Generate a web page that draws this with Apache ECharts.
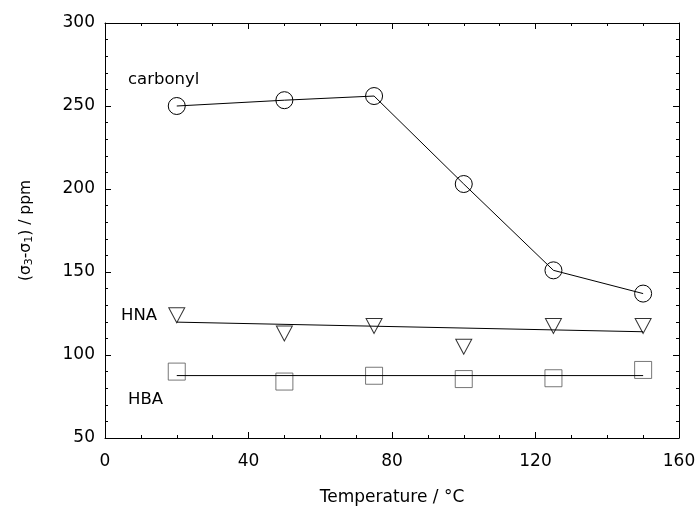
<!DOCTYPE html>
<html>
<head>
<meta charset="utf-8">
<script src="https://cdn.jsdelivr.net/npm/echarts@6/dist/echarts.min.js"></script>
<style>
  html, body { margin: 0; padding: 0; background: #fff; }
  #chart { width: 699px; height: 511px; }
</style>
</head>
<body>
<div id="chart"></div>
<script>
// ---- data ----
var temperatures = [20, 50, 75, 100, 125, 150];
var carbonyl = [250, 253.5, 256, 203, 151, 137];
var hna = [124, 113, 117.5, 105, 117.5, 117.5];
var hba = [90, 84, 87.5, 85.5, 86, 91];
var fitTemps = [20, 150];
var hnaFit = [119.8, 114];
var hbaFit = [87.6, 87.6];
var xTicks = [0, 40, 80, 120, 160];
var yTicks = [50, 100, 150, 200, 250, 300];

function pairs(xs, ys) { return xs.map(function (x, i) { return [x, ys[i]]; }); }

var FONT = 'DejaVu Sans';
var chart = echarts.init(document.getElementById('chart'), null, { renderer: 'canvas' });

var axisCommon = {
  type: 'value',
  axisLine: { show: true, onZero: false, lineStyle: { color: '#000', width: 1 } },
  axisTick: { show: true, inside: true, length: 6, lineStyle: { color: '#000' } },
  minorTick: { show: true, length: 3, lineStyle: { color: '#000' } },
  splitLine: { show: false },
  minorSplitLine: { show: false }
};

var option = {
  animation: false,
  backgroundColor: '#fff',
  grid: { left: 105, top: 23, width: 574, height: 419, containLabel: false },
  xAxis: [
    Object.assign({}, axisCommon, {
      position: 'bottom',
      min: xTicks[0], max: xTicks[xTicks.length - 1], interval: 40,
      minorTick: { show: true, splitNumber: 4, length: 3, lineStyle: { color: '#000' } },
      axisLabel: { show: true, margin: 15, fontFamily: FONT, fontSize: 17, color: '#000',
                   showMinLabel: true, showMaxLabel: true, hideOverlap: false },
      name: 'Temperature / \u00B0C',
      nameLocation: 'middle',
      nameGap: 51,
      nameTextStyle: { fontFamily: FONT, fontSize: 17, color: '#000' }
    }),
    Object.assign({}, axisCommon, {
      position: 'top',
      min: xTicks[0], max: xTicks[xTicks.length - 1], interval: 40,
      minorTick: { show: true, splitNumber: 4, length: 3, lineStyle: { color: '#000' } },
      axisLabel: { show: false }
    })
  ],
  yAxis: [
    Object.assign({}, axisCommon, {
      position: 'left',
      min: yTicks[0], max: yTicks[yTicks.length - 1], interval: 50,
      minorTick: { show: true, splitNumber: 5, length: 3, lineStyle: { color: '#000' } },
      axisLabel: { show: true, margin: 10, fontFamily: FONT, fontSize: 17, color: '#000',
                   showMinLabel: true, showMaxLabel: true, hideOverlap: false },
      name: '(\u03C3{sub|3}-\u03C3{sub|1}) / ppm',
      nameLocation: 'middle',
      nameRotate: 90,
      nameGap: 70,
      nameTextStyle: {
        fontFamily: FONT, fontSize: 15.5, color: '#000',
        rich: { sub: { fontFamily: FONT, fontSize: 11, color: '#000', padding: [8, 0, 0, 0] } }
      }
    }),
    Object.assign({}, axisCommon, {
      position: 'right',
      min: yTicks[0], max: yTicks[yTicks.length - 1], interval: 50,
      minorTick: { show: true, splitNumber: 5, length: 3, lineStyle: { color: '#000' } },
      axisLabel: { show: false }
    })
  ],
  graphic: [
    { type: 'text', left: 128, top: 71, style: { text: 'carbonyl', font: '16.5px "DejaVu Sans"', fill: '#000' } },
    { type: 'text', left: 121, top: 307, style: { text: 'HNA', font: '16.5px "DejaVu Sans"', fill: '#000' } },
    { type: 'text', left: 128, top: 391, style: { text: 'HBA', font: '16.5px "DejaVu Sans"', fill: '#000' } }
  ],
  series: [
    {
      name: 'carbonyl', type: 'line', xAxisIndex: 0, yAxisIndex: 0,
      data: pairs(temperatures, carbonyl),
      symbol: 'circle', symbolSize: 17, showAllSymbol: true,
      lineStyle: { color: '#000', width: 1 },
      itemStyle: { color: 'rgba(0,0,0,0)', borderColor: '#000', borderWidth: 1 },
      z: 3
    },
    {
      name: 'HNA fit', type: 'line', xAxisIndex: 0, yAxisIndex: 0,
      data: pairs(fitTemps, hnaFit),
      symbol: 'none',
      lineStyle: { color: '#000', width: 1 }
    },
    {
      name: 'HNA', type: 'scatter', xAxisIndex: 0, yAxisIndex: 0,
      data: pairs(temperatures, hna),
      symbol: 'triangle', symbolRotate: 180, symbolSize: [16, 15],
      itemStyle: { color: 'rgba(0,0,0,0)', borderColor: '#000', borderWidth: 1 }
    },
    {
      name: 'HBA fit', type: 'line', xAxisIndex: 0, yAxisIndex: 0,
      data: pairs(fitTemps, hbaFit),
      symbol: 'none',
      lineStyle: { color: '#000', width: 1 }
    },
    {
      name: 'HBA', type: 'scatter', xAxisIndex: 0, yAxisIndex: 0,
      data: pairs(temperatures, hba),
      symbol: 'rect', symbolSize: 17,
      itemStyle: { color: 'rgba(0,0,0,0)', borderColor: '#555', borderWidth: 1 }
    }
  ]
};

chart.setOption(option);
</script>
</body>
</html>
